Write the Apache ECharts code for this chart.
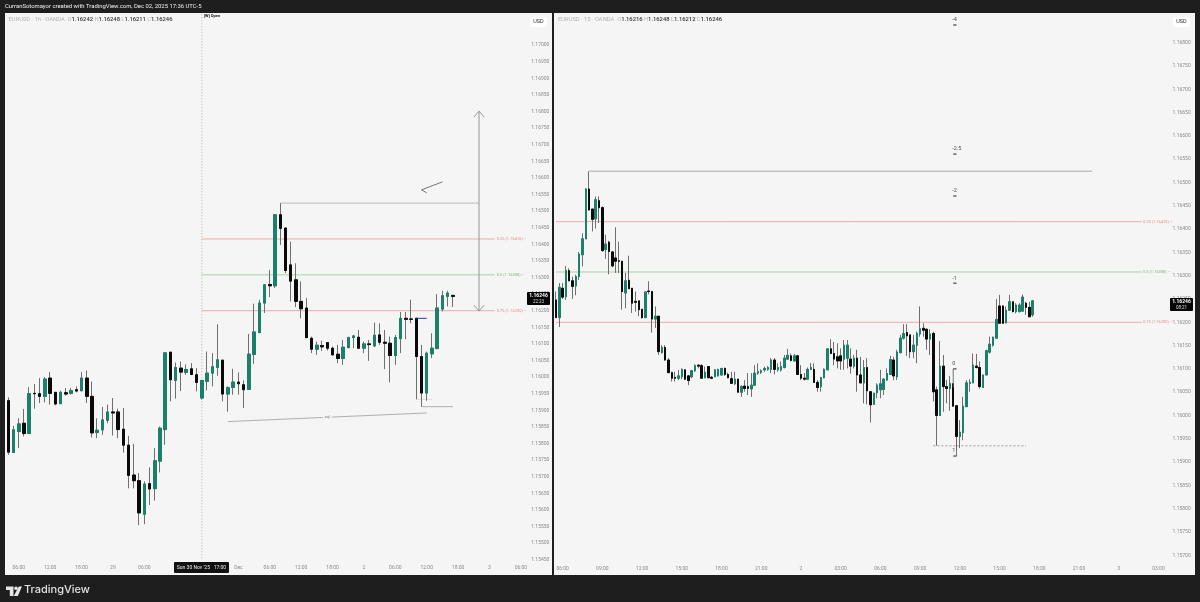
<!DOCTYPE html>
<html><head><meta charset="utf-8">
<style>html,body{margin:0;padding:0;background:#1e1e1e}#c{width:1200px;height:602px}</style>
<script src="https://cdn.jsdelivr.net/npm/echarts@6/dist/echarts.min.js"></script>
</head><body><div id="c"></div>
<script>
// Prices are in units of 0.00001 (116246 = 1.16246)
const leftOpen=[115929,115773,115836,115861,115830,115951,115950,115942,115997,115954,115920,115953,115951,115962,115959,115997,115942,115833,115841,115870,115895,115895,115843,115795,115705,115688,115587,115679,115664,115747,115842,116075,115990,116027,116014,116025,116007,115937,115987,116012,116029,116051,115949,115969,115985,115977,115963,116068,116134,116223,116279,116275,116489,116449,116338,116293,116228,116208,116117,116084,116095,116104,116087,116069,116056,116089,116119,116120,116087,116100,116094,116127,116105,116102,116065,116116,116177,116175,116177,116062,115952,116070,116086,116205,116243,116246];
const leftClose=[115774,115841,115859,115830,115950,115950,115942,115994,115951,115919,115954,115949,115959,115958,115997,115942,115832,115840,115871,115895,115892,115842,115795,115704,115688,115591,115678,115663,115748,115846,116073,115992,116029,116015,116023,116008,115984,115990,116012,116031,116052,115949,115968,115985,115980,115962,116069,116136,116223,116278,116275,116489,116448,116321,116289,116228,116206,116119,116084,116096,116091,116087,116067,116056,116090,116119,116124,116087,116100,116098,116126,116105,116102,116065,116119,116177,116174,116174,116062,115952,116072,116087,116208,116245,116253,116243];
const leftLow=[115766,115771,115786,115821,115829,115905,115922,115924,115917,115915,115920,115944,115947,115954,115957,115922,115818,115816,115826,115861,115824,115816,115773,115665,115665,115554,115557,115615,115628,115713,115796,115927,115935,115958,116007,116006,115957,115932,115960,115972,116004,115927,115896,115947,115947,115907,115962,116040,116134,116193,116241,116268,116398,116313,116228,116211,116177,116117,116072,116067,116079,116080,116065,116042,116037,116087,116087,116087,116072,116049,116090,116097,116024,115984,116037,116072,116114,116162,115933,115911,115929,116057,116084,116198,116213,116211];
const leftHigh=[115939,115853,115876,115904,115970,115979,115997,116000,116015,115954,115959,115967,115967,115972,116015,116020,115987,115876,115910,115917,115937,115905,115907,115823,115799,115711,115686,115728,115786,115851,116075,116075,116044,116047,116038,116042,116027,115990,116077,116072,116159,116051,115972,116025,116014,115990,116130,116221,116233,116280,116323,116490,116524,116449,116408,116343,116288,116238,116122,116107,116110,116104,116092,116097,116112,116122,116127,116142,116107,116112,116164,116162,116142,116122,116127,116196,116196,116233,116179,116097,116077,116132,116250,116260,116260,116248];

const rightOpen=[116248,116210,116273,116255,116311,116289,116278,116298,116345,116379,116486,116443,116422,116461,116446,116356,116372,116351,116338,116332,116331,116263,116290,116273,116245,116246,116228,116210,116267,116266,116207,116213,116135,116146,116119,116092,116082,116080,116083,116098,116085,116083,116096,116108,116107,116081,116105,116082,116083,116085,116087,116101,116088,116079,116068,116078,116050,116063,116062,116057,116065,116091,116093,116098,116099,116099,116119,116098,116098,116103,116121,116128,116117,116128,116088,116080,116078,116099,116099,116071,116062,116081,116098,116143,116133,116126,116128,116121,116123,116121,116106,116123,116087,116070,116103,116051,116024,116049,116055,116056,116076,116088,116119,116083,116135,116166,116178,116173,116137,116151,116175,116187,116185,116164,116176,116055,116000,116106,116062,116058,116068,116021,115955,115963,116019,116069,116070,116106,116103,116060,116087,116136,116151,116166,116235,116235,116199,116226,116244,116223,116223,116224,116241,116232,116216];
const rightClose=[116210,116275,116254,116311,116289,116277,116298,116346,116379,116486,116441,116421,116463,116446,116354,116368,116352,116321,116331,116331,116266,116289,116272,116241,116243,116227,116210,116265,116266,116207,116213,116137,116146,116119,116092,116080,116080,116085,116099,116078,116075,116096,116107,116106,116080,116093,116081,116080,116098,116099,116101,116088,116081,116069,116078,116050,116062,116058,116058,116065,116091,116094,116096,116101,116103,116119,116099,116103,116105,116123,116129,116118,116128,116088,116080,116078,116099,116103,116071,116060,116081,116099,116143,116133,116121,116117,116117,116151,116151,116106,116123,116087,116070,116103,116053,116023,116048,116065,116068,116078,116090,116120,116085,116136,116166,116176,116171,116137,116151,116176,116186,116183,116164,116175,116051,116000,116106,116062,116058,116069,116020,115955,115964,116020,116070,116071,116108,116103,116062,116087,116139,116153,116168,116206,116198,116198,116226,116244,116223,116237,116237,116254,116232,116212,116246];
const rightLow=[116210,116190,116250,116248,116288,116250,116258,116291,116320,116379,116440,116395,116401,116413,116351,116336,116303,116318,116306,116306,116227,116230,116272,116220,116223,116213,116208,116210,116260,116178,116188,116130,116133,116118,116091,116073,116073,116076,116078,116076,116065,116080,116094,116101,116080,116080,116080,116078,116083,116084,116086,116085,116080,116068,116065,116050,116040,116051,116044,116040,116065,116087,116089,116094,116096,116091,116088,116094,116094,116101,116119,116116,116116,116087,116076,116075,116076,116098,116070,116051,116051,116080,116098,116132,116108,116101,116098,116098,116101,116090,116101,116051,116069,116026,116024,115985,116023,116037,116037,116044,116075,116087,116076,116076,116133,116163,116128,116123,116123,116112,116169,116169,116141,116130,116030,115935,116000,116008,116026,116010,116019,115926,115930,115947,116019,116051,116070,116101,116058,116060,116087,116133,116148,116164,116198,116198,116198,116225,116221,116219,116221,116223,116216,116211,116212];
const rightHigh=[116266,116284,116284,116321,116316,116298,116302,116351,116391,116488,116524,116443,116470,116470,116449,116388,116375,116352,116404,116373,116331,116306,116343,116273,116266,116246,116228,116266,116288,116266,116234,116213,116151,116151,116123,116094,116094,116098,116101,116099,116087,116098,116110,116110,116110,116105,116105,116085,116099,116100,116102,116103,116092,116094,116094,116078,116065,116076,116091,116091,116108,116112,116099,116105,116106,116123,116123,116112,116116,116130,116143,116133,116132,116130,116108,116091,116103,116113,116112,116076,116083,116101,116144,116164,116158,116155,116144,116162,116162,116144,116130,116141,116126,116119,116123,116051,116048,116069,116098,116080,116101,116128,116126,116141,116173,116196,116196,116173,116173,116180,116234,116198,116187,116185,116180,116062,116160,116130,116076,116085,116069,116021,115990,116040,116076,116078,116133,116132,116116,116087,116141,116169,116169,116250,116259,116237,116234,116259,116244,116241,116241,116260,116244,116244,116248];

const leftTickIdx=[2,8,14,20,26,44,50,56,62,68,74,80,86,92,98];
const leftTickText=['06:00','12:00','18:00','29','06:00','Dec','06:00','12:00','18:00','2','06:00','12:00','18:00','3','06:00'];
const rightTickIdx=[2,14,26,38,50,62,74,86,98,110,122,134,146,158,170,182];
const rightTickText=['06:00','09:00','12:00','15:00','18:00','21:00','2','03:00','06:00','09:00','12:00','15:00','18:00','21:00','3','03:00'];
const fibPrices=[116416,116308,116200];
const fibTexts=['0.25 (1.16416) –','0.5 (1.16308) –','0.75 (1.16200) –'];
const fibColors=['#eea3a3','#9fce9f','#eea3a3'];
const fibLabelColors=['#e98c8c','#7dbb7d','#e98c8c'];
const extLevels=['-4','-2.5','-2','-1','0','1'];
const extPrices=[116838,116561,116471,116284,116100,115913];
const swingHigh=116524, leftSwingLow=115911, rightSwingLow=115935, blueLevel=116177;
const arrowTop=116801, arrowBottom=116199;
const rayStart=[79,116564], rayEnd=[83,116588], rayHead=[80,116555];
const eqStart=[42,115866], eqEnd=[80,115892];

const LN=100, RN=186;
function cats(n,idx,txt){const a=new Array(n).fill('');idx.forEach((k,i)=>a[k]=txt[i]);return a;}
function ohlc(o,c,l,h){return o.map((v,i)=>[v,c[i],l[i],h[i]]);}
function bodies(o,c){return o.map((v,i)=>[v,c[i],Math.min(v,c[i]),Math.max(v,c[i])]);}
const UP='#1b8069', DOWN='#0a0a0a', WICK='#6f6f6f', LBL='#8a8a8a';

function candles(gi,o,c,l,h,w){
  return [
   {type:'candlestick',xAxisIndex:gi,yAxisIndex:gi,barWidth:w,z:2,silent:true,animation:false,data:ohlc(o,c,l,h),
    itemStyle:{color:'transparent',color0:'transparent',borderColor:WICK,borderColor0:WICK,borderColorDoji:WICK,borderWidth:1}},
   {type:'candlestick',xAxisIndex:gi,yAxisIndex:gi,barWidth:w,z:3,silent:true,animation:false,data:bodies(o,c),
    itemStyle:{color:UP,color0:DOWN,borderColor:UP,borderColor0:DOWN,borderColorDoji:DOWN,borderWidth:1}}
  ];
}
const series=[...candles(0,leftOpen,leftClose,leftLow,leftHigh,3),...candles(1,rightOpen,rightClose,rightLow,rightHigh,2)];
function seg(gi,pts,color,width,type,lab,z){
  const s={type:'line',xAxisIndex:gi,yAxisIndex:gi,data:pts,symbol:'none',silent:true,animation:false,z:z||1,
    lineStyle:{color:color,width:width,type:type||'solid'}};
  if(lab)s.endLabel=lab;
  series.push(s);
}
function fibLabel(i,d){return {show:true,distance:d,formatter:fibTexts[i],color:fibLabelColors[i],fontSize:4,fontFamily:'Roboto'};}
// Left pane drawings
fibPrices.forEach((p,i)=>seg(0,[[37,p],[93,p]],fibColors[i],0.9,'solid',fibLabel(i,2)));
seg(0,[[37,117093],[37,115450]],'#b5b5b5',1,[1,2]);
seg(0,[[52,swingHigh],[90,swingHigh]],'#c4c4c4',1.4);
seg(0,[[90,arrowBottom],[90,arrowTop]],'#8c8c8c',0.9,'solid',null,4);
seg(0,[[89,arrowTop-18],[90,arrowTop],[91,arrowTop-18]],'#8c8c8c',0.9,'solid',null,4);
seg(0,[[89,arrowBottom+18],[90,arrowBottom],[91,arrowBottom+18]],'#8c8c8c',0.9,'solid',null,4);
seg(0,[rayStart,rayEnd],'#666666',0.9);
seg(0,[rayHead,rayStart],'#666666',0.9);
seg(0,[eqStart,eqEnd],'#a8a8a8',0.9);
seg(0,[[79,leftSwingLow],[85,leftSwingLow]],'#a8a8a8',0.9);
seg(0,[[78,rightSwingLow-2],[81,rightSwingLow-2]],'#dddddd',0.9);
seg(0,[[78,blueLevel],[80,blueLevel]],'#1f3fb5',1,'solid',null,4);
series.push({type:'scatter',xAxisIndex:0,yAxisIndex:0,symbolSize:0,silent:true,animation:false,z:5,
  data:[[61,(eqStart[1]+eqEnd[1])/2]],label:{show:true,position:'inside',formatter:'eql',color:'#777',fontSize:4,backgroundColor:'#f5f5f5',padding:[0,2],fontFamily:'Roboto'}});
// Right pane drawings
fibPrices.forEach((p,i)=>seg(1,[[0,p],[177,p]],fibColors[i],0.9,'solid',fibLabel(i,1)));
seg(1,[[10,swingHigh],[162,swingHigh]],'#c4c4c4',1.4);
seg(1,[[114,rightSwingLow],[142,rightSwingLow]],'#8f8f8f',0.9,[2,2],null,4);
extPrices.forEach((p,i)=>seg(1,[[120,p],[121,p]],'#222222',1,'solid',null,5));
series.push({type:'scatter',xAxisIndex:1,yAxisIndex:1,symbolSize:0,silent:true,animation:false,z:5,
  data:extPrices.map((p,i)=>({value:[120,p],label:{formatter:extLevels[i]}})),
  label:{show:true,position:[-1,-8],color:'#222',fontSize:5.5,fontFamily:'Roboto'}});
seg(1,[[120,116100],[120,116060]],'#666',0.9,'solid',null,5);
seg(1,[[121,115913],[121,115950]],'#666',0.9,'solid',null,5);

function xAxis(gi,n,idx,txt,margin){
  return {type:'category',gridIndex:gi,data:cats(n,idx,txt),boundaryGap:true,axisLine:{show:false},axisTick:{show:false},splitLine:{show:false},
    axisLabel:{interval:0,color:LBL,fontSize:5,fontFamily:'Roboto',margin:margin,hideOverlap:false}};
}
function yAxis(gi,min,max,hideAbove){
  return {type:'value',gridIndex:gi,position:'right',min:min,max:max,interval:50,axisLine:{show:false},axisTick:{show:false},splitLine:{show:false},
    axisLabel:{color:LBL,fontSize:5,fontFamily:'Roboto',margin:2.5,formatter:v=>v>hideAbove?'':(v/100000).toFixed(5)}};
}
const rich={g:{fill:'#b4b4b4',fontSize:5.8,fontFamily:'Roboto'},v:{fill:'#333',fontSize:5.8,fontFamily:'Roboto',fontWeight:500}};
function legend(x,head,o,h,l,c){
  return {type:'text',left:x,top:17,z:20,style:{text:`{g|${head}  O}{v|${o}}{g| H}{v|${h}}{g| L}{v|${l}}{g| C}{v|${c}}`,rich:rich}};
}
function usd(x){return [
  {type:'rect',shape:{x:x,y:17,width:17,height:10,r:1.5},style:{fill:'#fff'},z:20},
  {type:'text',x:x+8.5,y:22,z:21,style:{text:'USD',fill:'#333',fontSize:5.5,fontFamily:'Roboto',align:'center',verticalAlign:'middle'}}];}
function tag(x,y,t){return [
  {type:'rect',shape:{x:x,y:y,width:23,height:13,r:1},style:{fill:'#050505'},z:20},
  {type:'text',x:x+11.5,y:y+4,z:21,style:{text:'1.16246',fill:'#fff',fontSize:5,fontWeight:700,fontFamily:'Roboto',align:'center',verticalAlign:'middle'}},
  {type:'text',x:x+11.5,y:y+9.5,z:21,style:{text:t,fill:'#ddd',fontSize:4.5,fontFamily:'Roboto',align:'center',verticalAlign:'middle'}}];}

const graphic=[
  {type:'rect',shape:{x:5,y:13,width:547,height:562},style:{fill:'#f5f5f5'},z:-10},
  {type:'rect',shape:{x:554,y:13,width:641,height:562},style:{fill:'#f5f5f5'},z:-10},
  {type:'text',x:5,y:4,z:20,style:{text:'CurranSotomayor created with TradingView.com, Dec 02, 2025 17:36 UTC-5',fill:'#eeeeee',fontSize:5.9,fontFamily:'Roboto'}},
  legend(8.5,'EURUSD · 1h · OANDA','1.16242','1.16248','1.16211','1.16246'),
  legend(558,'EURUSD · 15 · OANDA','1.16216','1.16248','1.16212','1.16246'),
  {type:'text',x:204,y:14,z:20,style:{text:'[W] Open',fill:'#222',fontSize:4,fontWeight:700,fontFamily:'Roboto'}},
  ...usd(530),...usd(1173),
  ...tag(527,292,'22:23'),...tag(1170,298,'08:21'),
  {type:'rect',shape:{x:174,y:562,width:55,height:11,r:1},style:{fill:'#111'},z:20},
  {type:'text',x:201.5,y:567.5,z:21,style:{text:"Sun 30 Nov '25   17:00",fill:'#eee',fontSize:5,fontFamily:'Roboto',align:'center',verticalAlign:'middle'}},
  // TradingView mark
  {type:'polygon',shape:{points:[[6,586.5],[13.5,586.5],[13.5,596],[9.8,596],[9.8,590],[6,590]]},style:{fill:'#e6e6e6'},z:20},
  {type:'circle',shape:{cx:16,cy:588.3,r:1.8},style:{fill:'#e6e6e6'},z:20},
  {type:'polygon',shape:{points:[[18.8,586.5],[22,586.5],[17.8,596],[13.8,596]]},style:{fill:'#e6e6e6'},z:20},
  {type:'text',x:24,y:584.5,z:20,style:{text:'TradingView',fill:'#e0e0e0',fontSize:11,fontWeight:500,fontFamily:'Inter'}}
];

echarts.init(document.getElementById('c'),null,{renderer:'canvas'}).setOption({
  animation:false,backgroundColor:'#1e1e1e',tooltip:{show:false},legend:{show:false},
  grid:[
    {left:5.7,top:11.9,width:523,height:547.8,containLabel:false},
    {left:554.35,top:19.4,width:615.7,height:535.9,containLabel:false}
  ],
  xAxis:[xAxis(0,LN,leftTickIdx,leftTickText,6),xAxis(1,RN,rightTickIdx,rightTickText,10.5)],
  yAxis:[yAxis(0,115450,117100,117000),yAxis(1,115700,116850,116800)],
  series:series,graphic:graphic
});
</script></body></html>
